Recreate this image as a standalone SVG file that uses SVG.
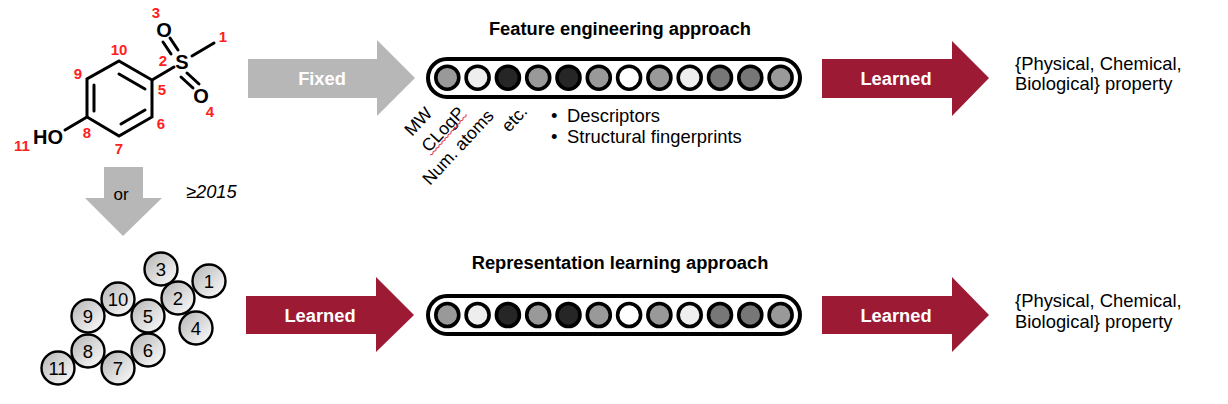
<svg xmlns="http://www.w3.org/2000/svg" width="1228" height="404" viewBox="0 0 1228 404">
<style>
text{font-family:"Liberation Sans",Arial,sans-serif;fill:#000}
.t{font-size:18.4px}
.h{font-size:18.3px;font-weight:bold;text-anchor:middle}
.w{font-size:18.3px;font-weight:bold;fill:#fff;text-anchor:middle}
.r{font-size:15px;font-weight:bold;fill:#ff2020;text-anchor:middle}
.n{font-size:18.5px;text-anchor:middle}
.i{font-size:18.3px;font-style:italic}
.u{font-size:17.6px}
.b{stroke:#000;stroke-width:3;fill:none;stroke-linecap:round}
.at{font-size:20px;font-weight:bold;text-anchor:middle}
.pill{fill:#fff;stroke:#000;stroke-width:4}
.c{stroke:#000;stroke-width:3.6}
.a{fill:url(#g);stroke:#000;stroke-width:2.4}
.gy{fill:#b7b7b7}.rd{fill:#9c1a33}
</style>
<defs>
<linearGradient id="g" x1="0" y1="0" x2="1" y2="1"><stop offset="0" stop-color="#b4b4b4"/><stop offset="1" stop-color="#ffffff"/></linearGradient>
</defs>
<g id="molecule">
<path class="b" d="M119 61L152 80V117L119 136L87 117V79Z"/>
<path class="b" d="M119 74L145 89M145 110L121 124M94 111V85"/>
<path class="b" d="M152 80L174 67M192 56L214 43M87 117L65 130"/>
<path class="b" d="M178 50L170 38M171 54L163 42M187 73L199 84M181 77L193 88"/>
<text class="at" x="182" y="69">S</text>
<text class="at" x="164" y="37">O</text>
<text class="at" x="201" y="103">O</text>
<text class="at" x="48" y="144">HO</text>
<text class="r" x="223" y="42">1</text><text class="r" x="163" y="66">2</text><text class="r" x="156" y="18">3</text><text class="r" x="210" y="117">4</text><text class="r" x="162" y="95">5</text><text class="r" x="161" y="129">6</text><text class="r" x="119" y="154">7</text><text class="r" x="87" y="138">8</text><text class="r" x="78" y="79">9</text><text class="r" x="119" y="55">10</text><text class="r" x="22" y="151">11</text>
</g>
<g id="connectors">
<path class="gy" d="M248 59H377V40L415 78L377 116V98H248Z"/>
<path class="rd" d="M822 59H952V41L989 78L952 116V98H822Z"/>
<path class="gy" d="M104 167H143V198H162L123 236L85 198H104Z"/>
<path class="rd" d="M246 296H376V277L414 315L376 352V334H246Z"/>
<path class="rd" d="M822 296H952V277L989 315L952 352V334H822Z"/>
<text class="w" x="322" y="85">Fixed</text>
<text class="w" x="896" y="85">Learned</text>
<text x="121" y="200" font-size="17" text-anchor="middle">or</text>
<text class="w" x="320" y="322">Learned</text>
<text class="w" x="896" y="322">Learned</text>
</g>
<g id="graph">
<g class="a"><circle cx="161" cy="269" r="16.5"/><circle cx="209" cy="281" r="16.5"/><circle cx="196" cy="328" r="16.5"/><circle cx="178" cy="298" r="16.5"/><circle cx="118" cy="299" r="16.5"/><circle cx="88" cy="316" r="16.5"/><circle cx="148" cy="316" r="16.5"/><circle cx="148" cy="350" r="16.5"/><circle cx="88" cy="351" r="16.5"/><circle cx="118" cy="368" r="16.5"/><circle cx="58" cy="368" r="16.5"/></g>
<text class="n" x="161" y="275.500">3</text><text class="n" x="209" y="287.500">1</text><text class="n" x="196" y="334.500">4</text><text class="n" x="178" y="304.500">2</text><text class="n" x="118" y="305.500">10</text><text class="n" x="88" y="322.500">9</text><text class="n" x="148" y="322.500">5</text><text class="n" x="148" y="356.500">6</text><text class="n" x="88" y="357.500">8</text><text class="n" x="118" y="374.500">7</text><text class="n" x="58" y="374.500">11</text>
</g>
<g id="vector-top">
<rect class="pill" x="428" y="59" width="372" height="38" rx="19"/>
<g class="c"><circle cx="447.3" cy="77.700" r="11.500" fill="#999"/><circle cx="477.600" cy="77.700" r="11.500" fill="#eee"/><circle cx="507.900" cy="77.700" r="11.500" fill="#262626"/><circle cx="538.200" cy="77.700" r="11.500" fill="#999"/><circle cx="568.500" cy="77.700" r="11.500" fill="#262626"/><circle cx="598.800" cy="77.700" r="11.500" fill="#999"/><circle cx="629.100" cy="77.700" r="11.500" fill="#fff"/><circle cx="659.400" cy="77.700" r="11.500" fill="#999"/><circle cx="689.700" cy="77.700" r="11.500" fill="#eee"/><circle cx="720" cy="77.700" r="11.500" fill="#777"/><circle cx="750.300" cy="77.700" r="11.500" fill="#777"/><circle cx="780.600" cy="77.700" r="11.500" fill="#999"/></g>
</g>
<g id="vector-bottom">
<rect class="pill" x="428" y="296" width="372" height="38" rx="19"/>
<g class="c"><circle cx="447.300" cy="315" r="11.500" fill="#999"/><circle cx="477.600" cy="315" r="11.500" fill="#eee"/><circle cx="507.900" cy="315" r="11.500" fill="#262626"/><circle cx="538.200" cy="315" r="11.500" fill="#999"/><circle cx="568.500" cy="315" r="11.500" fill="#262626"/><circle cx="598.800" cy="315" r="11.500" fill="#999"/><circle cx="629.100" cy="315" r="11.500" fill="#fff"/><circle cx="659.400" cy="315" r="11.500" fill="#999"/><circle cx="689.700" cy="315" r="11.500" fill="#eee"/><circle cx="720" cy="315" r="11.500" fill="#777"/><circle cx="750.300" cy="315" r="11.500" fill="#777"/><circle cx="780.600" cy="315" r="11.500" fill="#999"/></g>
</g>
<g id="labels">
<text class="h" x="620" y="35">Feature engineering approach</text>
<text class="h" x="620" y="269">Representation learning approach</text>
<text class="t" x="1015" y="70">{Physical, Chemical,</text>
<text class="t" x="1015" y="90">Biological} property</text>
<text class="t" x="1015" y="307">{Physical, Chemical,</text>
<text class="t" x="1015" y="328">Biological} property</text>
<text class="i" x="186" y="198">≥2015</text>
<text class="u" transform="translate(412 137) rotate(-47)">MW</text>
<text class="u" transform="translate(429 153) rotate(-47)">CLogP</text>
<path d="M430 155l3-1l0-2.400l3-1l0-2.400l3-1l0-2.400l3-1l0-2.400l3-1l0-2.400l3-1l0-2.400l3-1l0-2.400l3-1l0-2.400l3-1l0-2.400l3-1l0-2.400l3-1l0-2.400l3-1l0-2.400" fill="none" stroke="#e8304a" stroke-width="1"/>
<text class="u" transform="translate(430 186) rotate(-47)">Num. atoms</text>
<text class="u" transform="translate(509 133) rotate(-47)">etc.</text>
<text class="t" x="551" y="122">•</text>
<text class="t" x="567" y="122">Descriptors</text>
<text class="t" x="551" y="143">•</text>
<text class="t" x="567" y="143">Structural fingerprints</text>
</g>
</svg>
